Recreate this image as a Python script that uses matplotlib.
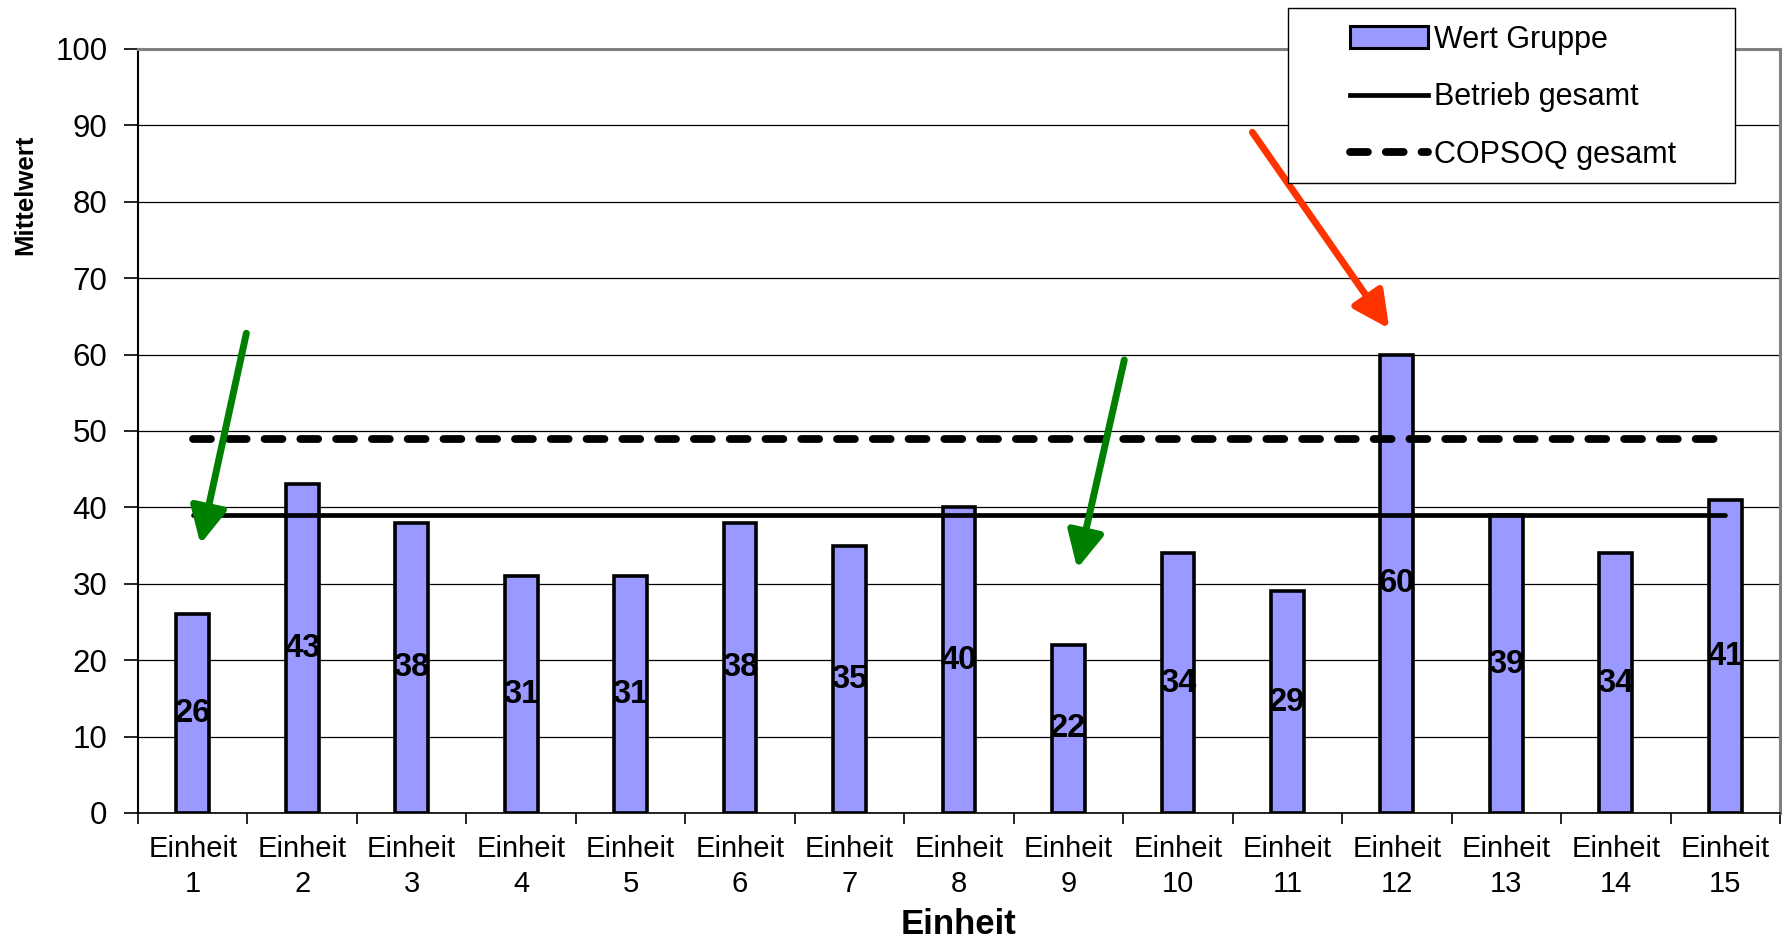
import matplotlib
matplotlib.use("Agg")
import matplotlib.pyplot as plt
from matplotlib.patches import Rectangle, Patch
from matplotlib.lines import Line2D
import numpy as np

plt.rcParams['font.family'] = ['Liberation Sans', 'DejaVu Sans']

# ---- data ----
categories = [f"Einheit\n{i}" for i in range(1, 16)]
wert_gruppe = [26, 43, 38, 31, 31, 38, 35, 40, 22, 34, 29, 60, 39, 34, 41]
betrieb_gesamt = [39] * 15
copsoq_gesamt = [49] * 15
y_ticks = list(range(0, 101, 10))

W, H = 1788, 941
fig = plt.figure(figsize=(W / 100, H / 100), dpi=100)
ax = fig.add_axes([138 / W, 1 - 813 / H, 1642 / W, 764 / H])

x = np.arange(len(categories))
bar_color = '#9999FF'
ax.bar(x, wert_gruppe, width=0.3, color=bar_color, edgecolor='black',
       linewidth=2.6, zorder=3)
ax.plot(x, betrieb_gesamt, color='black', lw=3.4, solid_capstyle='round', zorder=4)
ax.plot(x, copsoq_gesamt, color='black', lw=5.6, linestyle=(0, (2.3, 2.3)),
        dash_capstyle='round', zorder=4)

for xi, v in zip(x, wert_gruppe):
    ax.text(xi, v / 2, str(v), ha='center', va='center', fontsize=23.5,
            fontweight='bold', zorder=5)

ax.set_xlim(-0.5, len(categories) - 0.5)
ax.set_ylim(0, 100)
ax.set_yticks(y_ticks)
ax.tick_params(axis='y', labelsize=22.5, length=10, width=1.2, pad=12, direction='out')
ax.set_xticks(x)
ax.set_xticklabels(categories, fontsize=21, linespacing=1.3)
ax.tick_params(axis='x', which='major', length=0, pad=16)
ax.set_xticks(np.arange(-0.5, len(categories), 1), minor=True)
ax.tick_params(axis='x', which='minor', length=8, width=1.2, direction='out')
ax.yaxis.grid(True, color='black', lw=0.9, zorder=0)
ax.set_axisbelow(True)

ax.spines['left'].set_color('black')
ax.spines['left'].set_linewidth(1.5)
ax.spines['bottom'].set_color('black')
ax.spines['bottom'].set_linewidth(1.2)
for s in ('top', 'right'):
    ax.spines[s].set_color('#808080')
    ax.spines[s].set_linewidth(2.2)

ax.set_xlabel('Einheit', fontsize=25, fontweight='bold', labelpad=7)
ax.set_ylabel('Mittelwert', fontsize=18.5, fontweight='bold')
ax.yaxis.set_label_coords(-0.0615, 0.809)

# arrows
green = '#008000'
red = '#FF3300'
arrows = [((0.49, 62.8), (0.07, 35.2), green),
          ((8.51, 59.3), (8.08, 32.0), green),
          ((9.68, 89.1), (10.93, 63.4), red)]
for (x0, y0), (x1, y1), c in arrows:
    ax.annotate('', xy=(x1, y1), xytext=(x0, y0),
                arrowprops=dict(arrowstyle='-|>,head_length=1.1,head_width=0.55',
                                color=c, lw=5, mutation_scale=20,
                                shrinkA=0, shrinkB=0),
                annotation_clip=False, zorder=6)

# legend
fig.patches.append(Rectangle((1288 / W, 1 - 183 / H), 447 / W, 175 / H,
                             transform=fig.transFigure, facecolor='white',
                             edgecolor='black', lw=1.0, zorder=10))
handles = [Patch(facecolor=bar_color, edgecolor='black', lw=2.2),
           Line2D([], [], color='black', lw=3.4),
           Line2D([], [], color='black', lw=5.6, linestyle=(0, (2.3, 2.3)),
                  dash_capstyle='round')]
labels = ['Wert Gruppe', 'Betrieb gesamt', 'COPSOQ gesamt']
leg = fig.legend(handles, labels, loc='upper left',
                 bbox_to_anchor=(1330 / W, 1 - 5 / H), frameon=False,
                 fontsize=22, handlelength=2.55, handletextpad=0.2,
                 labelspacing=0.9, borderpad=0.15)
leg.set_zorder(11)

fig.savefig('out.png', dpi=100)
